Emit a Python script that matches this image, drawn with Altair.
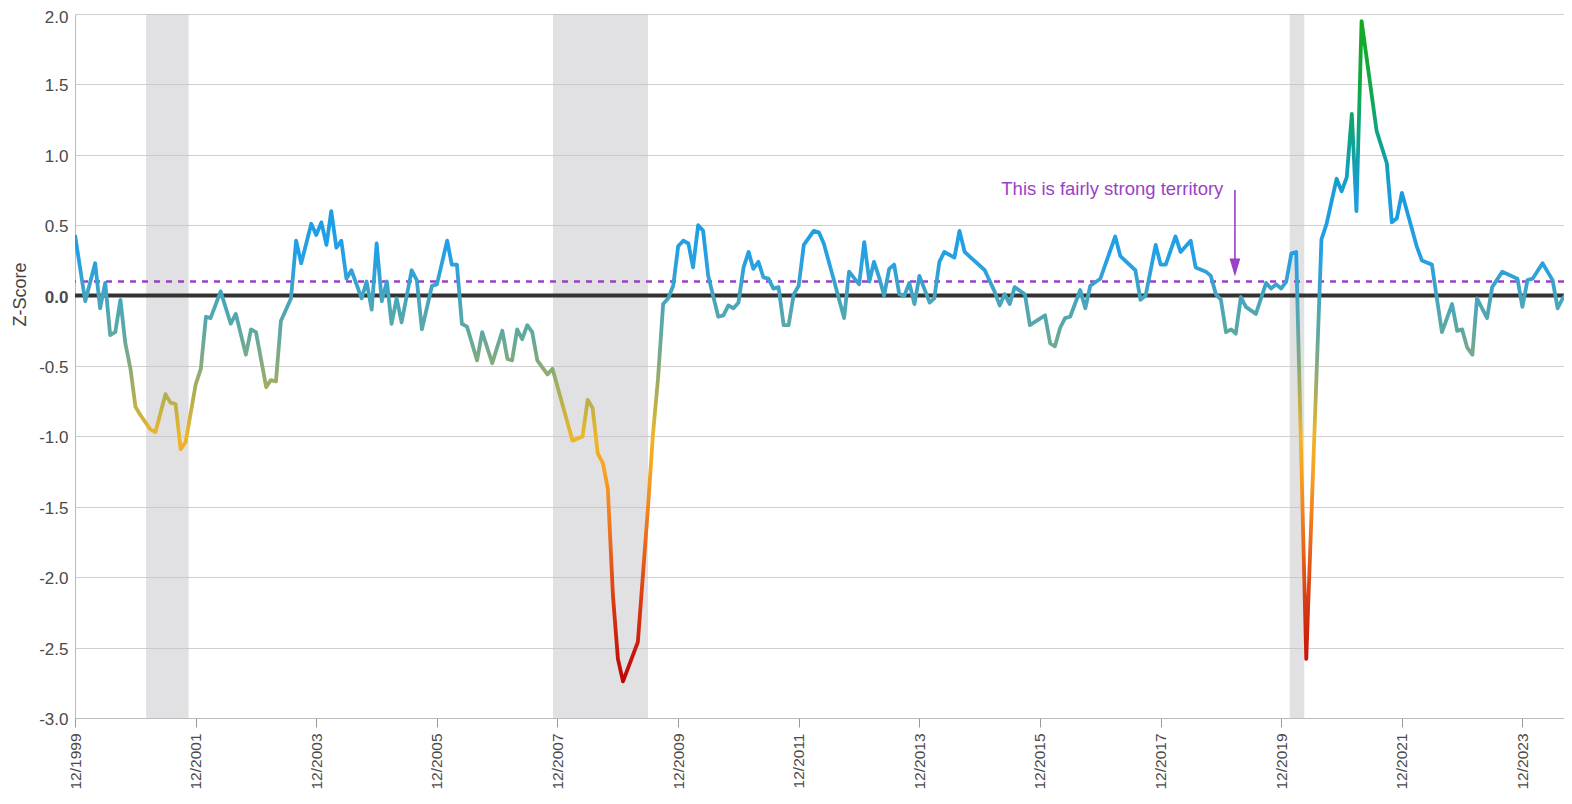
import altair as alt
import pandas as pd

# ---- data (months after Dec 1999, z-score) ----
month_offset = [
    0, 2, 4, 5, 6, 7, 8, 9, 10, 11, 12, 13, 15, 16, 18, 19, 20, 21, 22, 24,
    25, 26, 27, 29, 31, 32, 34, 35, 36, 38, 39, 40, 41, 43, 44, 45, 47, 48, 49, 50,
    51, 52, 53, 54, 55, 57, 58, 59, 60, 61, 62, 63, 64, 65, 67, 68, 69, 71, 72, 74,
    75, 76, 77, 78, 80, 81, 83, 85, 86, 87, 88, 89, 90, 91, 92, 94, 95, 99, 101, 102,
    103, 104, 105, 106, 107, 108, 109, 112, 114, 115, 116, 117, 118, 119, 120, 121, 122, 123, 124, 125,
    126, 128, 129, 130, 131, 132, 133, 134, 135, 136, 137, 138, 139, 140, 141, 142, 143, 144, 145, 147,
    148, 149, 151, 153, 154, 156, 157, 158, 159, 160, 161, 162, 163, 164, 165, 166, 167, 168, 170, 171,
    172, 173, 175, 176, 177, 181, 183, 184, 185, 186, 187, 189, 190, 193, 194, 195, 196, 197, 198, 200,
    201, 202, 204, 207, 208, 211, 212, 213, 215, 216, 217, 219, 220, 222, 223, 225, 226, 227, 228, 229,
    230, 231, 232, 233, 235, 237, 238, 239, 240, 241, 242, 243, 245, 248, 249, 251, 252, 253, 254, 255,
    256, 259, 261, 262, 263, 264, 267, 268, 270, 271, 272, 274, 275, 276, 277, 278, 279, 281, 282, 284,
    287, 288, 289, 290, 292, 294, 295, 296, 298,
]
z_score = [
    0.43, -0.04, 0.23, -0.09, 0.09, -0.28, -0.26, -0.03, -0.34, -0.52, -0.79, -0.85, -0.95, -0.97, -0.70, -0.76, -0.77, -1.09, -1.04, -0.63,
    -0.52, -0.15, -0.16, 0.03, -0.20, -0.13, -0.42, -0.24, -0.26, -0.65, -0.60, -0.61, -0.18, -0.02, 0.39, 0.23, 0.51, 0.43, 0.52, 0.36,
    0.60, 0.34, 0.39, 0.12, 0.18, -0.02, 0.10, -0.10, 0.37, -0.04, 0.10, -0.20, -0.02, -0.19, 0.18, 0.11, -0.24, 0.07, 0.08, 0.39,
    0.22, 0.22, -0.20, -0.22, -0.46, -0.26, -0.48, -0.25, -0.45, -0.46, -0.24, -0.31, -0.21, -0.26, -0.46, -0.56, -0.52, -1.03, -1.00, -0.74,
    -0.80, -1.12, -1.19, -1.37, -2.13, -2.58, -2.74, -2.46, -1.51, -0.99, -0.59, -0.06, -0.02, 0.07, 0.35, 0.39, 0.37, 0.20, 0.50, 0.46,
    0.14, -0.15, -0.14, -0.07, -0.09, -0.05, 0.20, 0.31, 0.19, 0.24, 0.13, 0.12, 0.05, 0.06, -0.21, -0.21, 0.01, 0.07, 0.36, 0.46,
    0.45, 0.37, 0.11, -0.16, 0.17, 0.08, 0.38, 0.10, 0.24, 0.13, 0.00, 0.19, 0.22, 0.01, 0.00, 0.09, -0.06, 0.14, -0.05, -0.02,
    0.24, 0.31, 0.27, 0.46, 0.31, 0.18, 0.03, -0.07, 0.01, -0.06, 0.06, 0.01, -0.21, -0.14, -0.34, -0.36, -0.23, -0.16, -0.15, 0.04,
    -0.09, 0.07, 0.12, 0.42, 0.28, 0.18, -0.03, 0.00, 0.36, 0.22, 0.22, 0.42, 0.31, 0.39, 0.20, 0.17, 0.14, 0.01, -0.03, -0.26,
    -0.24, -0.27, -0.01, -0.08, -0.13, 0.09, 0.05, 0.08, 0.05, 0.10, 0.30, 0.31, -2.58, 0.40, 0.51, 0.83, 0.74, 0.84, 1.29, 0.60,
    1.95, 1.17, 0.94, 0.52, 0.55, 0.73, 0.35, 0.25, 0.22, -0.02, -0.26, -0.06, -0.25, -0.24, -0.37, -0.42, -0.02, -0.16, 0.06, 0.17,
    0.12, -0.08, 0.11, 0.12, 0.23, 0.11, -0.09, -0.02, 0.06,
]

recession_start = ["2001-02-04", "2007-11-04", "2020-01-22"]
recession_end = ["2001-10-19", "2009-06-01", "2020-04-19"]

tick_years = [1999, 2001, 2003, 2005, 2007, 2009, 2011, 2013, 2015, 2017, 2019, 2021, 2023]
y_ticks = [2.0, 1.5, 1.0, 0.5, 0.0, -0.5, -1.0, -1.5, -2.0, -2.5, -3.0]

strong_level = 0.1
annotation_text = "This is fairly strong territory"
annotation_date = ["2018-12-16"]
annotation_value = [0.76]
arrow_date = ["2019-02-24"]
arrow_top = [0.75]
arrow_bottom = [0.25]
arrow_head = [0.199]

# value -> colour of the gradient along the line
color_values = [1.95, 1.5, 1.2, 0.95, 0.7, 0.3, 0.12, 0.0, -0.25, -0.5, -0.75, -1.0, -1.25, -1.55, -1.9, -2.3, -2.74]
color_hex = ["#14aa1e", "#12a846", "#0ea57a", "#129fb0", "#1a9de0", "#22a0e6", "#34a2d4", "#44a6c0",
             "#5ea8a2", "#86ab7a", "#b8b04c", "#eeb628", "#f6a222", "#f08020", "#e45818", "#d42e10", "#c00404"]

# ---- build tables ----
base = pd.Timestamp("1999-12-01")
dates = [(base + pd.DateOffset(months=m)).strftime("%Y-%m-%d") for m in month_offset]
df = pd.DataFrame({"date": dates, "z": z_score})
bands_df = pd.DataFrame({"start": recession_start, "end": recession_end})
ann_df = pd.DataFrame({"date": annotation_date, "z": annotation_value, "label": [annotation_text]})
arrow_df = pd.DataFrame({"date": arrow_date, "top": arrow_top, "bottom": arrow_bottom, "head": arrow_head})
zero_df = pd.DataFrame({"y": [0.0]})
strong_df = pd.DataFrame({"y": [strong_level]})

zmax, zmin = max(z_score), min(z_score)
stops = [alt.GradientStop(color=c, offset=max(0.0, min(1.0, (zmax - v) / (zmax - zmin))))
         for v, c in zip(color_values, color_hex)]
gradient = alt.Gradient(gradient="linear", stops=stops, x1=0, x2=0, y1=0, y2=1)

W, H = 1489, 704
FONT = "Liberation Sans"
PURPLE = "#9a3fc8"

xscale = alt.Scale(type="utc", domain=[alt.DateTime(year=1999, month=12, date=1, utc=True),
                                       alt.DateTime(year=2024, month=8, date=9, utc=True)])
yscale = alt.Scale(domain=[-3, 2], nice=False, zero=False)

xaxis = alt.Axis(
    values=[alt.DateTime(year=y, month=12, date=1, utc=True) for y in tick_years],
    labelExpr="utcFormat(datum.value, '%m/%Y')",
    labelAngle=270, labelFontSize=15.5, labelColor="#4a4a4a", labelFont=FONT,
    labelPadding=6, tickSize=9, tickColor="#999999", domainColor="#bbbbbb",
    grid=False, title=None,
)
yaxis = alt.Axis(
    values=y_ticks, grid=True, gridColor="#cfcfcf", gridWidth=1.2,
    labelExpr="replace(format(datum.value, '.1f'), '\u2212', '-')",
    ticks=False, domainColor="#bbbbbb", labelFontSize=17, labelColor="#4a4a4a", labelFont=FONT,
    labelPadding=7, labelOffset=alt.expr("datum.value == 2 ? 3.5 : 1.5"),
    labelFontWeight=alt.expr("datum.value == 0 ? 'bold' : 'normal'"),
    title="Z-Score", titleFontSize=18, titleFontWeight="normal", titleColor="#444444",
    titleFont=FONT, titleX=-54.5, titleY=280, titleAngle=270, titleAlign="center",
    titleBaseline="middle",
)

bands = alt.Chart(bands_df).mark_rect(color="#c4c4c8", opacity=0.5).encode(
    x=alt.X("start:T", scale=xscale, axis=xaxis),
    x2="end:T",
    y=alt.value(0),
    y2=alt.value(H),
)

zero_line = alt.Chart(zero_df).mark_rule(color="#333333", strokeWidth=4).encode(
    y=alt.Y("y:Q", scale=yscale, axis=yaxis)
)

strong_line = alt.Chart(strong_df).mark_rule(color=PURPLE, strokeWidth=2.3, strokeDash=[6, 6]).encode(
    y=alt.Y("y:Q", scale=yscale)
)

line = alt.Chart(df).mark_line(color=gradient, strokeWidth=3.8, strokeJoin="round", clip=True).encode(
    x=alt.X("date:T", scale=xscale),
    y=alt.Y("z:Q", scale=yscale),
)

label = alt.Chart(ann_df).mark_text(align="right", baseline="middle", fontSize=18.5,
                                    color=PURPLE, font=FONT).encode(
    x=alt.X("date:T", scale=xscale),
    y=alt.Y("z:Q", scale=yscale),
    text="label:N",
)

arrow_shaft = alt.Chart(arrow_df).mark_rule(color=PURPLE, strokeWidth=1.6).encode(
    x=alt.X("date:T", scale=xscale),
    y=alt.Y("top:Q", scale=yscale),
    y2="bottom:Q",
)
arrow_tip = alt.Chart(arrow_df).mark_point(shape="M-0.6,-1L0.6,-1L0,1Z", size=324, filled=True,
                                           color=PURPLE, opacity=1).encode(
    x=alt.X("date:T", scale=xscale),
    y=alt.Y("head:Q", scale=yscale),
)

chart = alt.layer(bands, zero_line, strong_line, line, label, arrow_shaft, arrow_tip).properties(
    width=W, height=H,
    padding={"left": 67, "top": 6, "right": 0, "bottom": 74},
    autosize=alt.AutoSizeParams(type="none"),
    background="white",
).configure_view(stroke=None)

chart.save("out.html", embed_options={"renderer": "svg", "actions": False})
